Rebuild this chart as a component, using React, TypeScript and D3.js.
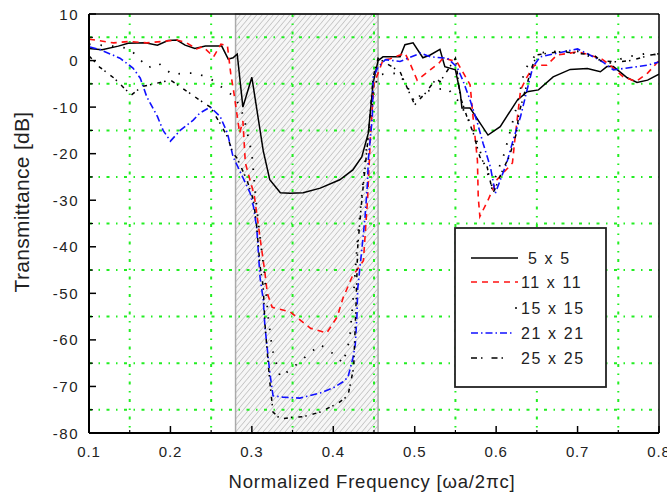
import React from "react";
import * as d3 from "d3";

type Pt = [number, number];

const seriesNames = ["5 x 5", "11 x 11", "15 x 15", "21 x 21", "25 x 25"];

const s5: Pt[] = [[0.100,2.6],[0.116,2.3],[0.136,3.1],[0.148,3.7],[0.169,3.8],[0.184,3.3],[0.197,4.3],[0.208,4.4],[0.218,3.3],[0.230,2.6],[0.243,3.1],[0.263,3.1],[0.271,0.3],[0.277,0.6],[0.282,1.4],[0.289,-10],[0.300,-3.6],[0.314,-19.4],[0.322,-25.6],[0.335,-28.4],[0.347,-28.5],[0.363,-28.4],[0.384,-27.4],[0.408,-25.6],[0.424,-23.5],[0.435,-20.7],[0.443,-15.6],[0.449,-4.8],[0.455,0],[0.461,0.8],[0.482,0.8],[0.488,3.4],[0.498,3.8],[0.510,0.6],[0.519,1.2],[0.531,2.4],[0.537,-1.3],[0.550,-2],[0.556,-7],[0.558,-10.2],[0.568,-10.2],[0.590,-16],[0.605,-14.2],[0.626,-8.5],[0.638,-6.7],[0.652,-6.3],[0.670,-3.5],[0.691,-1.9],[0.712,-1.7],[0.728,-2.4],[0.736,-1.3],[0.744,-1.3],[0.761,-3.7],[0.773,-4.7],[0.786,-4.2],[0.800,-2.9]];

const s11: Pt[] = [[0.100,4.6],[0.130,3.8],[0.150,4.1],[0.171,3.8],[0.208,4.4],[0.220,3.8],[0.232,2.5],[0.240,3.0],[0.253,0.8],[0.262,3.5],[0.270,3.2],[0.274,-2.7],[0.278,-7],[0.285,-15.6],[0.289,-13],[0.292,-22],[0.303,-29],[0.310,-38],[0.316,-45.5],[0.319,-50],[0.325,-53],[0.347,-54],[0.372,-57.5],[0.392,-58.5],[0.405,-55],[0.412,-51],[0.423,-46.5],[0.437,-43],[0.442,-30],[0.446,-15],[0.450,-5],[0.455,-2.7],[0.461,0.1],[0.470,0.4],[0.488,1.6],[0.494,-0.5],[0.503,-4.2],[0.519,-2],[0.530,-0.5],[0.535,0.6],[0.552,-0.3],[0.568,-5.2],[0.572,-12.8],[0.577,-21.4],[0.578,-29.3],[0.580,-33.5],[0.590,-30],[0.601,-25.6],[0.620,-22],[0.623,-17],[0.630,-6.3],[0.638,-3.5],[0.647,-1],[0.662,-1],[0.675,1.2],[0.691,1.6],[0.700,1.9],[0.715,1.2],[0.730,0.3],[0.740,-1],[0.756,-3.5],[0.772,-4.5],[0.786,-2.7],[0.800,0]];

const s15: Pt[] = [[0.100,3.5],[0.135,3.0],[0.150,2.5],[0.165,-0.2],[0.172,-1.6],[0.185,-0.5],[0.202,-3],[0.217,-2.7],[0.232,-2.7],[0.250,-4],[0.265,-6],[0.280,-8],[0.290,-12],[0.300,-20],[0.305,-30],[0.310,-38],[0.315,-45],[0.320,-55],[0.325,-62],[0.335,-68],[0.350,-66],[0.370,-63],[0.384,-61],[0.400,-63],[0.412,-65],[0.420,-60],[0.425,-50],[0.430,-38],[0.440,-20],[0.450,-6],[0.456,-3],[0.480,-2.7],[0.490,-5.2],[0.500,-9],[0.510,-6.7],[0.540,-5.9],[0.555,-9],[0.570,-14],[0.585,-22],[0.595,-27],[0.610,-20],[0.625,-10],[0.635,-2],[0.650,1.6],[0.675,2.0],[0.700,2.0],[0.720,0.5],[0.740,-0.5],[0.760,0.8],[0.785,1.5],[0.800,1.2]];

const s21: Pt[] = [[0.101,2.9],[0.114,2.3],[0.129,1.2],[0.138,0.5],[0.154,-1.6],[0.163,-3.8],[0.171,-7.8],[0.184,-12],[0.191,-15],[0.200,-17.3],[0.212,-15],[0.228,-12.8],[0.236,-11.3],[0.249,-10],[0.261,-12],[0.270,-15.6],[0.277,-20.7],[0.286,-24],[0.298,-28.5],[0.302,-31.4],[0.306,-36],[0.310,-46.5],[0.314,-51.4],[0.316,-57],[0.319,-62],[0.322,-67],[0.326,-72],[0.338,-72.3],[0.359,-72.5],[0.384,-71.4],[0.400,-70.3],[0.412,-69],[0.418,-68],[0.424,-64],[0.427,-61],[0.429,-55],[0.430,-49],[0.435,-40.7],[0.439,-33.6],[0.442,-26.3],[0.443,-21.4],[0.448,-12],[0.449,-3.5],[0.455,-1.4],[0.464,0.2],[0.482,-0.2],[0.507,1.6],[0.519,0.8],[0.540,0.5],[0.552,-1.4],[0.559,-4.2],[0.568,-8.5],[0.577,-13.4],[0.584,-17.8],[0.593,-22.9],[0.599,-28.5],[0.605,-25.7],[0.613,-22],[0.621,-17],[0.630,-12],[0.638,-6.3],[0.645,-1.4],[0.654,0.8],[0.675,1.6],[0.700,2.5],[0.715,1.2],[0.731,-0.3],[0.744,-2],[0.761,-1.6],[0.786,-1],[0.800,-0.3]];

const s25: Pt[] = [[0.100,1.0],[0.113,-1.4],[0.131,-3.8],[0.143,-5.9],[0.152,-7.4],[0.165,-5.6],[0.200,-4.2],[0.212,-5.6],[0.236,-8.5],[0.249,-10],[0.261,-13.5],[0.270,-16.4],[0.277,-20],[0.282,-21],[0.294,-25.7],[0.302,-30],[0.306,-35.7],[0.310,-44],[0.314,-48.6],[0.316,-56.4],[0.319,-62.8],[0.322,-69],[0.326,-75.5],[0.335,-77],[0.351,-76.6],[0.363,-76.5],[0.384,-75.5],[0.406,-73.6],[0.418,-72],[0.425,-66],[0.428,-52],[0.430,-40],[0.435,-30],[0.442,-18],[0.449,-3.5],[0.455,0.5],[0.482,-2.4],[0.500,-9.5],[0.513,-7],[0.527,-3.8],[0.531,-4.6],[0.550,0.5],[0.556,-7.8],[0.564,-12],[0.572,-15.6],[0.580,-20.7],[0.589,-22.9],[0.596,-28.5],[0.600,-27],[0.608,-23.5],[0.616,-20.7],[0.625,-15.6],[0.628,-11.3],[0.637,-5.6],[0.644,-1.4],[0.650,1.2],[0.665,1.6],[0.680,1.9],[0.720,1.2],[0.728,0],[0.749,-0.3],[0.765,0],[0.790,1.2],[0.800,1.5]];

const xTicks = [0.1, 0.2, 0.3, 0.4, 0.5, 0.6, 0.7, 0.8];
const yTicks = [10, 0, -10, -20, -30, -40, -50, -60, -70, -80];
const xGrid = [0.15, 0.25, 0.35, 0.45, 0.55, 0.65, 0.75];
const yGrid = [5, -5, -15, -25, -35, -45, -55, -65, -75];
const bandGap = [0.28, 0.455];

const W = 667, H = 492;
const L = 89, R = 659, T = 14, B = 433;

export default function App() {
  const x = d3.scaleLinear().domain([0.1, 0.8]).range([L, R]);
  const y = d3.scaleLinear().domain([-80, 10]).range([B, T]);
  const line = d3.line<Pt>().x(d => x(d[0])).y(d => y(d[1]));

  const styles = [
    { data: s5, color: "#000", dash: "none", w: 1.5 },
    { data: s11, color: "#ff1010", dash: "6,5", w: 1.6 },
    { data: s15, color: "#000", dash: "1.5,10", w: 1.8 },
    { data: s21, color: "#1010ff", dash: "7,3,1.5,3", w: 1.6 },
    { data: s25, color: "#000", dash: "4,3,1.5,6", w: 1.5 },
  ];
  const minorX = d3.range(0.15, 0.8, 0.1);
  const minorY = d3.range(5, -80, -10);
  const font = "Arial, 'Liberation Sans', sans-serif";
  const legX = 455, legY = 228, legW = 151, legH = 159;
  const rows = [258, 282, 308, 333, 358];
  return (
    <svg width={W} height={H} style={{ position: "absolute", left: 0, top: 0, background: "#fff" }} fontFamily={font}>
      <defs>
        <pattern id="hatch" width="4.2" height="4.2" patternUnits="userSpaceOnUse" patternTransform="rotate(40)">
          <line x1="0" y1="0" x2="0" y2="4.2" stroke="#9a9a9a" strokeWidth="0.9" />
        </pattern>
        <clipPath id="plotclip"><rect x={L} y={T} width={R - L} height={B - T} /></clipPath>
      </defs>
      <rect x={0} y={0} width={W} height={H} fill="#fff" />
      <rect x={x(bandGap[0])} y={T} width={x(bandGap[1]) - x(bandGap[0])} height={B - T} fill="#f6f6f6" />
      <rect x={x(bandGap[0])} y={T} width={x(bandGap[1]) - x(bandGap[0])} height={B - T} fill="url(#hatch)" stroke="#aaa" strokeWidth={1.5} />
      {yGrid.map(v => (
        <line key={"gy" + v} x1={L} x2={R} y1={y(v)} y2={y(v)} stroke="#22ee22" strokeWidth={2} strokeDasharray="3,6.5,1.5,6.5" />
      ))}
      {xGrid.map(v => (
        <line key={"gx" + v} x1={x(v)} x2={x(v)} y1={T} y2={B} stroke="#22ee22" strokeWidth={2} strokeDasharray="3,6.5,1.5,6.5" />
      ))}
      <g clipPath="url(#plotclip)">
        {styles.map((s, i) => (
          <path key={i} d={line(s.data) || ""} fill="none" stroke={s.color} strokeWidth={s.w} strokeDasharray={s.dash} />
        ))}
      </g>
      <line x1={L} x2={R} y1={T} y2={T} stroke="#000" strokeWidth={1.5} />
      <line x1={R} x2={R} y1={T} y2={B} stroke="#000" strokeWidth={1.5} />
      <line x1={L} x2={R} y1={B} y2={B} stroke="#000" strokeWidth={2} />
      <line x1={L} x2={L} y1={T} y2={B} stroke="#000" strokeWidth={2} />
      {xTicks.map(v => (
        <g key={"xt" + v}>
          <line x1={x(v)} x2={x(v)} y1={B} y2={B - 7} stroke="#000" strokeWidth={1.5} />
          <text x={x(v)} y={457} fontSize={15} textAnchor="middle" letterSpacing={0.8} fill="#222">{v.toFixed(1)}</text>
        </g>
      ))}
      {minorX.map(v => (
        <line key={"mx" + v} x1={x(v)} x2={x(v)} y1={B} y2={B - 3} stroke="#000" strokeWidth={1.2} />
      ))}
      {yTicks.map(v => (
        <g key={"yt" + v}>
          <line x1={L} x2={L + 7} y1={y(v)} y2={y(v)} stroke="#000" strokeWidth={1.5} />
          <text x={79} y={y(v) + 5.5} fontSize={15} textAnchor="end" letterSpacing={1.5} fill="#222">{String(v)}</text>
        </g>
      ))}
      {minorY.map(v => (
        <line key={"my" + v} x1={L} x2={L + 4} y1={y(v)} y2={y(v)} stroke="#000" strokeWidth={1.2} />
      ))}
      <text x={372} y={488} fontSize={18.5} textAnchor="middle" letterSpacing={0.8} fill="#222">Normalized Frequency [ωa/2πc]</text>
      <text transform="translate(28.5,202) rotate(-90)" fontSize={21} textAnchor="middle" letterSpacing={0.3} fill="#222">Transmittance [dB]</text>
      <rect x={legX} y={legY} width={legW} height={legH} fill="#fff" stroke="#222" strokeWidth={1.8} />
      {styles.map((s, i) => (
        <g key={"lg" + i}>
          {i === 2 ? (
            <circle cx={516} cy={rows[i]} r={1} fill="#000" />
          ) : (
            <line x1={471} x2={i === 4 ? 505 : i === 3 ? 512 : 518} y1={rows[i]} y2={rows[i]} stroke={s.color} strokeWidth={1.6} strokeDasharray={i === 4 ? "6,4,1.5,9" : s.dash === "none" ? undefined : s.dash} />
          )}
          <text x={i === 0 ? 528 : 521} y={rows[i] + 6} fontSize={16} letterSpacing={1.6} fill="#222">{seriesNames[i]}</text>
        </g>
      ))}
    </svg>
  );
}
